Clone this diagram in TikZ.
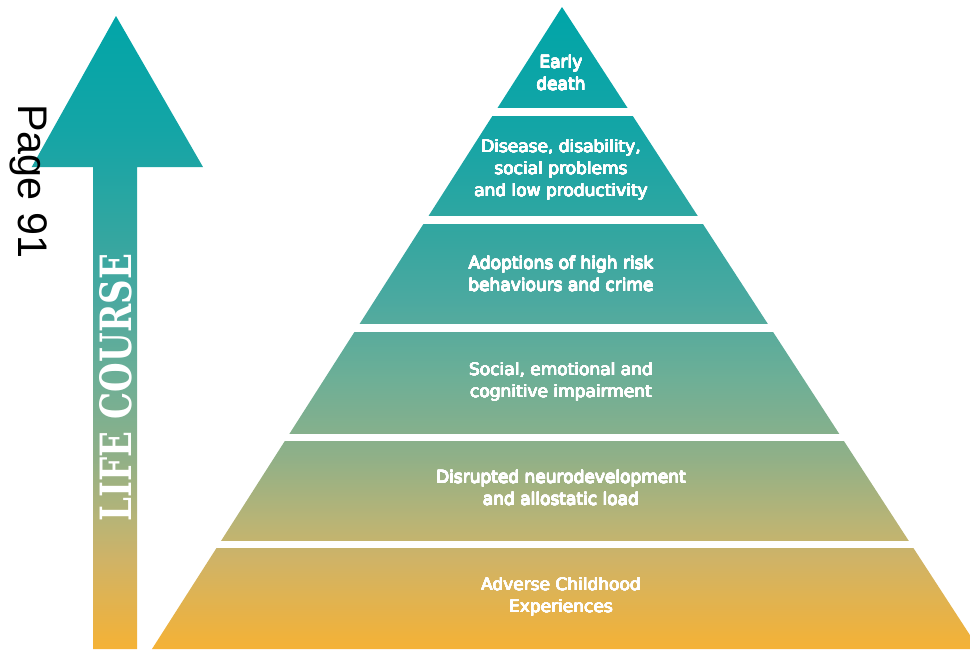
\documentclass[tikz,border=0pt]{standalone}
\usepackage{fontspec}
\usepackage{graphicx}
\usepackage{contour}
\contourlength{0.3pt}
\contournumber{16}
\newfontfamily\pyrfont{DejaVu Sans}
\newfontfamily\lcfont{DejaVu Serif}
\newfontfamily\pgfont{Liberation Sans}
\newcommand{\wl}[1]{\contour{white}{#1}}
\definecolor{s0}{RGB}{245,178,53}
\definecolor{s1}{RGB}{208,179,102}
\definecolor{s2}{RGB}{184,180,118}
\definecolor{s3}{RGB}{143,176,136}
\definecolor{s4}{RGB}{110,175,150}
\definecolor{s5}{RGB}{75,169,160}
\definecolor{s6}{RGB}{53,166,160}
\definecolor{s7}{RGB}{20,165,166}
\definecolor{s8}{RGB}{0,165,168}
\pgfdeclareverticalshading{lifecourse}{100bp}{color(0bp)=(s0); color(25bp)=(s0); color(31.9bp)=(s1); color(35bp)=(s2); color(40.1bp)=(s3); color(45.95bp)=(s4); color(52.2bp)=(s5); color(56.9bp)=(s6); color(65.4bp)=(s7); color(75bp)=(s8); color(100bp)=(s8)}
\begin{document}
\begin{tikzpicture}[x=1pt,y=-1pt,
  txt/.style={font=\pyrfont\fontsize{17}{22}\selectfont, text=white, align=center, inner sep=0pt},
  band/.style={fill=white, draw=none}]
\useasboundingbox (0,0) rectangle (970,649);
% pyramid and arrow corners
\coordinate (apex) at (562,7);
\coordinate (bl) at (152,649);
\coordinate (br) at (979,649);
\coordinate (tip) at (116,16);
\coordinate (hr) at (203,167);
\coordinate (hl) at (31.7,167);
\coordinate (sr) at (137,167);
\coordinate (sl) at (93,167);
\coordinate (srb) at (137,649);
\coordinate (slb) at (93,649);
\shade[shading=lifecourse]
  (apex) -- (br) -- (bl) -- cycle
  (tip) -- (hr) -- (sr) -- (srb) -- (slb) -- (sl) -- (hl) -- cycle;
% white gaps between layers
\fill[band] (400,108) rectangle (990,116);
\fill[band] (300,216) rectangle (990,224);
\fill[band] (200,324) rectangle (990,332);
\fill[band] (160,434) rectangle (990,441);
\fill[band] (160,541) rectangle (990,548);
% layer texts
\node[txt] (l1) at (561,73) {\wl{Early}\\\wl{death}};
\node[txt] (l2) at (561,170) {\wl{Disease, disability,}\\\wl{social problems}\\\wl{and low productivity}};
\node[txt] (l3) at (561,274) {\wl{Adoptions of high risk}\\\wl{behaviours and crime}};
\node[txt] (l4) at (561,382) {\wl{Social, emotional and}\\\wl{cognitive impairment}};
\node[txt] (l5) at (561,488) {\wl{Disrupted neurodevelopment}\\\wl{and allostatic load}};
\node[txt] (l6) at (561,597) {\wl{Adverse Childhood}\\\wl{Experiences}};
% arrow label
\node[inner sep=0pt, text=white, rotate=90] (lc) at (116,387.5)
  {\resizebox{267pt}{32pt}{\lcfont\bfseries LIFE COURSE}};
% page label
\node[inner sep=0pt, anchor=base west, rotate=-90] (pg) at (18,104)
  {\resizebox{154pt}{!}{\pgfont Page 91}};
\end{tikzpicture}
\end{document}
